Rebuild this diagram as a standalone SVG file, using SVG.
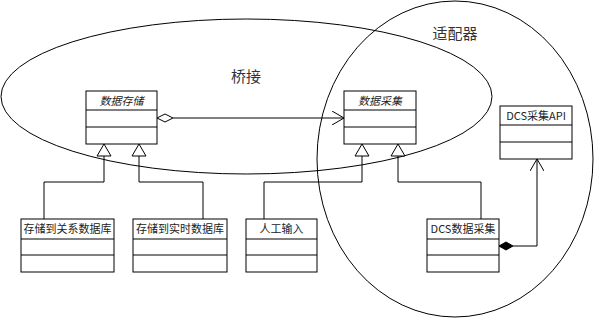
<svg xmlns="http://www.w3.org/2000/svg" width="594" height="318" viewBox="0 0 594 318">
<defs>
<style>
.bg{fill:#fff}
.zone{fill:none;stroke:#000;stroke-width:1}
.box{fill:#fff;stroke:#000;stroke-width:1}
.ln{fill:none;stroke:#000;stroke-width:1}
.t{font-family:"Noto Sans CJK SC","Liberation Serif",serif;font-size:11px;fill:#222;text-anchor:middle}
.ti{font-style:italic}
.big{font-family:"Noto Sans CJK SC","Liberation Serif",serif;font-size:15px;fill:#333;text-anchor:middle}
.tri{fill:#fff;stroke:#000;stroke-width:1}
</style>
<marker id="open" viewBox="0 0 12 14" refX="12" refY="7" markerWidth="12" markerHeight="14" markerUnits="userSpaceOnUse" orient="auto">
<path d="M0,0 L12,7 L0,14" fill="none" stroke="#000" stroke-width="1"/>
</marker>
</defs>
<rect class="bg" x="0" y="0" width="594" height="318"/>
<g id="zones">
<ellipse id="bridge" class="zone" cx="246.5" cy="96.5" rx="245.5" ry="77.5"/>
<ellipse id="adapter" class="zone" cx="455" cy="159" rx="138" ry="158"/>
<text class="big" x="246" y="82">桥接</text>
<text class="big" x="455" y="39">适配器</text>
</g>
<g id="connectors">
<path class="ln" d="M173,118 H344" marker-end="url(#open)"/>
<polygon class="tri" points="157,118 165,114 173,118 165,122"/>
<path class="ln" d="M104,156 V182 H44 V219"/>
<path class="ln" d="M139,156 V182 H203 V219"/>
<polygon class="tri" points="104,144 97,156 111,156"/>
<polygon class="tri" points="139,144 132,156 146,156"/>
<path class="ln" d="M362,156 V182 H264 V219"/>
<path class="ln" d="M398,156 V182 H481 V219"/>
<polygon class="tri" points="362,144 355,156 369,156"/>
<polygon class="tri" points="398,144 391,156 405,156"/>
<path class="ln" d="M513,246 H537 V159" marker-end="url(#open)"/>
<polygon points="499,246 506,242 513,246 506,250" fill="#000" stroke="#000" stroke-width="1"/>
</g>
<g id="n-storage">
<rect class="box" x="86" y="91" width="71" height="53"/>
<path class="ln" d="M86,110 H157 M86,127 H157"/>
<text class="t ti" x="121.5" y="105">数据存储</text>
</g>
<g id="n-collect">
<rect class="box" x="344" y="91" width="72" height="53"/>
<path class="ln" d="M344,110 H416 M344,127 H416"/>
<text class="t ti" x="380" y="105">数据采集</text>
</g>
<g id="n-dcsapi">
<rect class="box" x="500" y="106" width="72" height="53"/>
<path class="ln" d="M500,125 H572 M500,142 H572"/>
<text class="t" x="536" y="120">DCS采集API</text>
</g>
<g id="n-reldb">
<rect class="box" x="21" y="219" width="93" height="53"/>
<path class="ln" d="M21,239 H114 M21,255 H114"/>
<text class="t" x="67.5" y="233">存储到关系数据库</text>
</g>
<g id="n-rtdb">
<rect class="box" x="133" y="219" width="94" height="53"/>
<path class="ln" d="M133,239 H227 M133,255 H227"/>
<text class="t" x="180" y="233">存储到实时数据库</text>
</g>
<g id="n-manual">
<rect class="box" x="246" y="219" width="71" height="53"/>
<path class="ln" d="M246,239 H317 M246,255 H317"/>
<text class="t" x="281.5" y="233">人工输入</text>
</g>
<g id="n-dcs">
<rect class="box" x="427" y="219" width="72" height="53"/>
<path class="ln" d="M427,239 H499 M427,255 H499"/>
<text class="t" x="463" y="233">DCS数据采集</text>
</g>
</svg>
